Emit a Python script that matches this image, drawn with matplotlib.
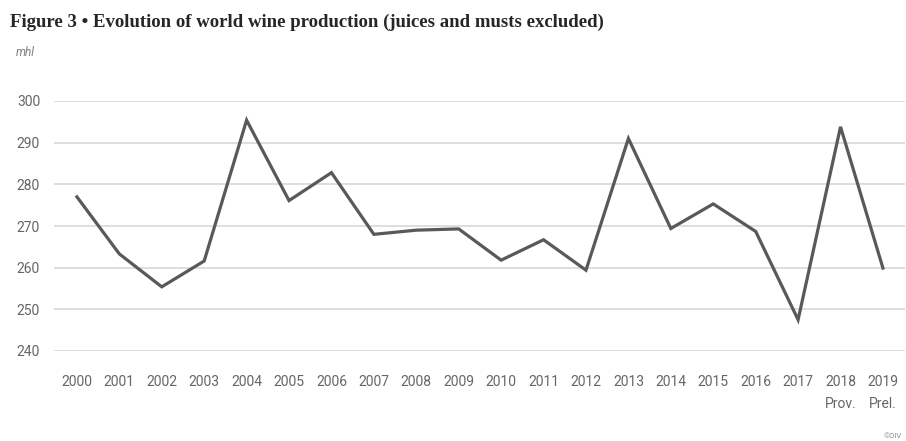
import matplotlib
matplotlib.use("Agg")
import matplotlib.pyplot as plt

years = ["2000", "2001", "2002", "2003", "2004", "2005", "2006", "2007", "2008", "2009",
         "2010", "2011", "2012", "2013", "2014", "2015", "2016", "2017", "2018\nProv.", "2019\nPrel."]
production = [277.0, 263.3, 255.4, 261.6, 295.4, 276.1, 282.8, 268.0, 269.0, 269.3,
              261.8, 266.7, 259.4, 291.0, 269.4, 275.3, 268.7, 247.5, 293.8, 259.9]
yticks = [240, 250, 260, 270, 280, 290, 300]

narrow = "Roboto"

fig = plt.figure(figsize=(9.06, 4.41), dpi=100)
ax = fig.add_axes([54/906, 1-351/441, (905-54)/906, 250/441])
x = list(range(len(years)))
ax.plot(x, production, color="#595959", lw=2.3, solid_joinstyle="miter", clip_on=False, zorder=3)
ax.set_xlim(-0.54, len(years) - 1 + 0.52)
ax.set_ylim(240, 300)
ax.set_yticks(yticks)
ax.set_xticks(x)
ax.set_xticklabels(years, fontfamily=narrow, fontsize=10, color="#666666", linespacing=1.75,
                   multialignment="center")
ax.set_yticklabels([str(v) for v in yticks], fontfamily=narrow, fontsize=10, color="#666666")
ax.tick_params(length=0)
ax.tick_params(axis="x", pad=17)
ax.tick_params(axis="y", pad=10)
for yv in yticks:
    ax.axhline(yv, color="#dedede", lw=1.4, zorder=1)
for s in ax.spines.values():
    s.set_visible(False)

fig.text(10/906, 1-22/441, "Figure 3 \u2022 Evolution of world wine production (juices and musts excluded)",
         fontfamily="Liberation Serif", fontweight="bold", fontsize=13.5, color="#262626", va="center")
fig.text(16/906, 1-53/441, "mhl", fontfamily=narrow, fontstyle="italic", fontsize=8.5, color="#7f7f7f", va="center")
fig.text(902/906, 1-436/441, "\u00a9OIV", fontfamily=narrow, fontsize=5.5, color="#8c8c8c", ha="right", va="center")

fig.savefig("out.png", dpi=100)
